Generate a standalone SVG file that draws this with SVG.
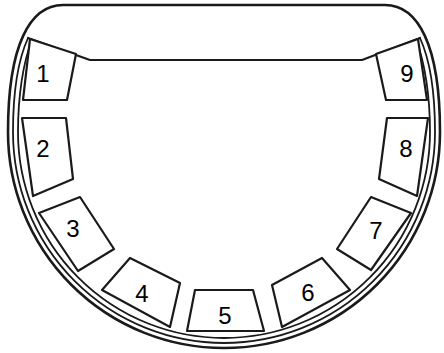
<svg xmlns="http://www.w3.org/2000/svg" width="444" height="353" viewBox="0 0 444 353">
<style>
.ln{fill:none;stroke:#1a1a1a;stroke-linejoin:round;stroke-linecap:round}
.box{fill:#fff;stroke:#1a1a1a;stroke-width:2.2;stroke-linejoin:round}
.lbl{font-family:"Liberation Sans",Arial,sans-serif;font-size:24px;fill:#000;text-anchor:middle}
</style>
<rect width="444" height="353" fill="#fff"/>
<g id="frame">
<path class="ln" stroke-width="2.6" d="M63,5 H385 C418,5 440,45 440,132 A216 216 0 0 1 8 132 C8,45 30,5 63,5 Z"/>
<path class="ln" stroke-width="1.8" d="M28,38 C18,60 13,95 13,132 A211 211 0 0 0 435 132 C435,95 430,60 420,38"/>
<path class="ln" stroke-width="1.8" d="M32,40 C23,62 18,97 18,132 A206 206 0 0 0 430 132 C430,97 425,62 416,40"/>
<path class="ln" stroke-width="2.2" d="M28,38 L90,60 H362 L420,38"/>
</g>
<g id="s1"><polygon class="box" points="30,39 76,54 67,100 23,100"/><text class="lbl" x="43" y="82">1</text></g>
<g id="s2"><polygon class="box" points="22,118 66,118 73,179 33,196"/><text class="lbl" x="43" y="157">2</text></g>
<g id="s3"><polygon class="box" points="39,213 80,197 114,249 78,271"/><text class="lbl" x="73" y="237">3</text></g>
<g id="s4"><polygon class="box" points="102,290 130,258 180,283 170,327"/><text class="lbl" x="142" y="302">4</text></g>
<g id="s5"><polygon class="box" points="195,290 253,290 264,331 187,331"/><text class="lbl" x="225" y="324">5</text></g>
<g id="s6"><polygon class="box" points="272,285 322,258 350,290 282,327"/><text class="lbl" x="308" y="301">6</text></g>
<g id="s7"><polygon class="box" points="371,197 411,213 371,270 337,249"/><text class="lbl" x="376" y="239">7</text></g>
<g id="s8"><polygon class="box" points="387,118 428,118 417,196 379,179"/><text class="lbl" x="406" y="157">8</text></g>
<g id="s9"><polygon class="box" points="376,54 418,39 427,100 386,100"/><text class="lbl" x="407" y="82">9</text></g>
<g id="connectors"></g>
</svg>
